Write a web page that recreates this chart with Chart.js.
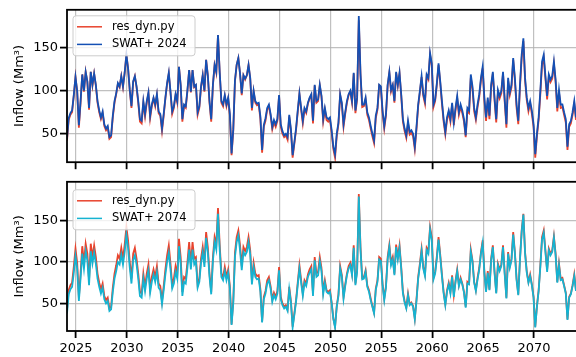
<!DOCTYPE html>
<html>
<head>
<meta charset="utf-8">
<script src="https://cdn.jsdelivr.net/npm/chart.js@4.4.1/dist/chart.umd.min.js"></script>
<style>
  html, body { margin:0; padding:0; background:#fff; overflow:hidden; width:576px; height:357px; }
  #wrap { position:relative; width:576px; height:357px; overflow:hidden; }
  canvas { position:absolute; left:0; }
  #top { top:0; }
  #bot { top:172px; }
</style>
</head>
<body>
<div id="wrap">
<canvas id="top" width="580" height="172"></canvas>
<canvas id="bot" width="580" height="185"></canvas>
</div>
<script>
// time axis: one value every 2 months, starting early 2024
var t0 = 2024.12;
var perYear = 6;

var xTicks = [2025, 2030, 2035, 2040, 2045, 2050, 2055, 2060, 2065, 2070];
var yTicks = [50, 100, 150];

// inflow (Mm3)
var resDyn = [
  42, 66, 72, 75, 94, 116, 99, 57, 86, 119,
  99, 122, 110, 78, 122, 106, 120, 106, 86, 75,
  67, 74, 59, 54, 57, 44, 46, 69, 86, 96,
  108, 104, 117, 104, 121, 142, 126, 100, 80, 110,
  117, 104, 86, 64, 62, 86, 70, 86, 97, 68,
  82, 91, 82, 95, 74, 71, 53, 71, 91, 108,
  120, 98, 73, 80, 95, 86, 128, 106, 64, 82,
  80, 100, 124, 98, 124, 104,
  106, 72, 80, 104, 118, 99, 136, 118, 86, 64,
  106, 130, 121, 165, 121, 86, 82, 94, 82, 91,
  71, 25, 53, 111, 130, 138, 120, 95, 118, 113,
  118, 130, 114, 77, 99, 86, 83, 84, 67, 28,
  58, 65, 78, 82, 71, 55, 63, 58, 65, 94,
  58, 50, 46, 48, 43, 70, 53, 22, 38, 54,
  75, 96, 78, 62, 78, 74, 85, 91, 95, 62,
  106, 86, 88, 106, 93, 64, 78,
  66, 64, 66, 51, 32, 22, 47, 61, 95, 84,
  58, 73, 86, 95, 99, 86, 120, 74, 90, 182,
  118, 81, 82, 90, 72, 66, 56, 47, 39, 68,
  78, 106, 104, 74, 56, 71, 106, 121, 99, 106,
  86, 121, 106, 120, 94, 64, 53, 45, 62, 49,
  51, 47, 32, 55, 82, 98, 116, 94, 85, 117,
  113, 142, 130, 81, 88, 107, 130, 109, 85, 64,
  49, 66, 75, 64, 84, 60,
  77, 91, 72, 81, 74, 64, 46, 76, 74, 115,
  102, 76, 66, 81, 93, 112, 126, 89, 65, 89,
  67, 104, 120, 89, 63, 98, 91, 97, 120, 87,
  57, 112, 95, 104, 136, 112, 80, 61, 104, 138,
  158, 112, 89, 76, 85, 73, 58, 22, 47, 66,
  96, 130, 138, 114, 90, 116, 110, 114, 131, 110,
  76, 98, 80, 81, 72, 63, 31, 58, 62, 72,
  85, 66
];

var swat2024 = [
  44, 68, 74, 77, 95, 116, 100, 60, 88, 119,
  100, 122, 111, 80, 122, 107, 120, 107, 88, 77,
  69, 76, 61, 56, 59, 46, 48, 71, 88, 97,
  109, 105, 117, 105, 121, 142, 126, 101, 82, 111,
  117, 105, 88, 67, 65, 88, 73, 88, 98, 71,
  84, 92, 84, 96, 76, 73, 56, 73, 92, 109,
  121, 99, 76, 82, 96, 88, 128, 107, 67, 84,
  82, 101, 124, 99, 124, 105,
  107, 75, 82, 105, 118, 100, 136, 118, 88, 67,
  107, 130, 122, 165, 122, 88, 84, 95, 84, 92,
  73, 27, 55, 112, 130, 138, 120, 97, 118, 114,
  118, 130, 115, 80, 100, 88, 85, 86, 70, 31,
  60, 68, 80, 84, 73, 58, 66, 61, 67, 95,
  61, 53, 48, 50, 46, 72, 55, 25, 40, 56,
  77, 97, 80, 65, 80, 76, 86, 92, 96, 65,
  107, 88, 90, 107, 94, 67, 80,
  69, 67, 69, 54, 35, 26, 50, 63, 96, 86,
  61, 75, 88, 96, 100, 88, 121, 77, 92, 187,
  120, 84, 84, 92, 75, 69, 59, 50, 42, 71,
  80, 107, 105, 77, 59, 73, 107, 122, 101, 107,
  88, 122, 107, 121, 96, 67, 56, 48, 65, 52,
  54, 50, 35, 58, 84, 100, 117, 96, 88, 119,
  115, 144, 132, 84, 90, 109, 132, 111, 88, 67,
  52, 69, 77, 67, 86, 63,
  80, 94, 75, 84, 77, 67, 48, 80, 77, 119,
  105, 80, 69, 84, 96, 115, 128, 92, 69, 92,
  71, 107, 122, 92, 67, 101, 94, 100, 122, 90,
  61, 115, 98, 107, 138, 115, 84, 65, 107, 142,
  161, 115, 92, 80, 88, 77, 61, 26, 50, 69,
  100, 134, 142, 117, 94, 119, 113, 117, 134, 113,
  80, 101, 84, 84, 75, 67, 35, 61, 65, 75,
  88, 69
];

var swat2074 = [
  38, 61, 67, 70, 87, 107, 92, 53, 80, 110,
  92, 113, 102, 72, 113, 98, 111, 98, 80, 70,
  62, 69, 55, 50, 53, 41, 43, 64, 80, 89,
  100, 97, 109, 97, 112, 133, 117, 93, 74, 102,
  108, 97, 80, 59, 57, 80, 65, 80, 90, 63,
  76, 85, 76, 88, 69, 66, 49, 66, 85, 100,
  111, 91, 68, 74, 88, 80, 119, 98, 59, 76,
  74, 93, 115, 91, 115, 97,
  101, 69, 76, 99, 112, 94, 129, 112, 82, 61,
  101, 124, 115, 158, 115, 82, 78, 89, 78, 87,
  68, 24, 50, 106, 124, 132, 114, 90, 112, 108,
  112, 124, 109, 73, 94, 82, 79, 80, 64, 27,
  55, 62, 74, 78, 68, 52, 60, 55, 62, 90,
  55, 48, 44, 46, 41, 67, 51, 21, 36, 52,
  72, 92, 75, 59, 75, 71, 82, 87, 91, 59,
  102, 82, 84, 101, 89, 61, 75,
  64, 62, 64, 50, 31, 21, 46, 59, 92, 82,
  56, 71, 84, 92, 96, 84, 117, 72, 88, 179,
  115, 79, 80, 88, 70, 64, 54, 46, 38, 66,
  76, 103, 101, 72, 54, 69, 103, 118, 96, 103,
  84, 118, 103, 117, 92, 62, 51, 44, 60, 48,
  50, 46, 31, 53, 80, 95, 113, 92, 83, 114,
  110, 139, 127, 79, 86, 104, 127, 106, 83, 62,
  48, 64, 73, 62, 82, 58,
  76, 89, 71, 79, 73, 63, 45, 74, 73, 112,
  100, 75, 65, 79, 91, 110, 123, 87, 64, 87,
  66, 102, 118, 87, 62, 96, 89, 95, 118, 85,
  56, 110, 93, 102, 133, 110, 78, 60, 102, 136,
  157, 110, 87, 75, 83, 72, 57, 21, 46, 65,
  94, 127, 135, 112, 88, 114, 108, 112, 129, 108,
  75, 96, 78, 79, 71, 62, 30, 57, 61, 71,
  83, 65
];

var RED = '#e8432d';
var BLUE = '#1450b4';
var CYAN = '#15b3d1';

var pts = (arr) => arr.map((v, i) => ({x: t0 + i / perYear, y: v}));

Chart.defaults.font.family = "'DejaVu Sans', sans-serif";
Chart.defaults.font.size = 13;
Chart.defaults.color = '#000';

// black box round the plot area
var frame = {
  id: 'frame',
  afterDatasetsDraw(chart) {
    let ctx = chart.ctx, a = chart.chartArea;
    ctx.save();
    ctx.strokeStyle = '#000';
    ctx.lineWidth = 1.8;
    ctx.strokeRect(a.left, a.top, a.right - a.left, a.bottom - a.top);
    ctx.restore();
  }
};

// matplotlib style legend in the top left corner
var legendBox = {
  id: 'legendBox',
  afterDraw(chart, args, o) {
    let ctx = chart.ctx, a = chart.chartArea;
    let x = a.left + o.dx, y = a.top + o.dy, w = 122, h = 40, r = 3;
    ctx.save();
    ctx.beginPath();
    ctx.moveTo(x + r, y);
    ctx.arcTo(x + w, y, x + w, y + h, r);
    ctx.arcTo(x + w, y + h, x, y + h, r);
    ctx.arcTo(x, y + h, x, y, r);
    ctx.arcTo(x, y, x + w, y, r);
    ctx.closePath();
    ctx.fillStyle = 'rgba(255,255,255,0.8)';
    ctx.fill();
    ctx.strokeStyle = '#cccccc';
    ctx.lineWidth = 1;
    ctx.stroke();
    ctx.font = "11.5px 'DejaVu Sans'";
    ctx.textBaseline = 'middle';
    o.items.forEach((it, k) => {
      let yy = y + 11 + k * 17.6;
      ctx.strokeStyle = it.color;
      ctx.lineWidth = 1.5;
      ctx.beginPath();
      ctx.moveTo(x + 4, yy);
      ctx.lineTo(x + 29, yy);
      ctx.stroke();
      ctx.fillStyle = '#000';
      ctx.fillText(it.label, x + 39, yy);
    });
    ctx.restore();
  }
};

var makeChart = (id, other, otherColor, otherLabel, opt) => {
  return new Chart(document.getElementById(id), {
    type: 'line',
    data: {
      datasets: [
        {label: otherLabel, data: pts(other), borderColor: otherColor, borderWidth: 1.8, pointRadius: 0, tension: 0},
        {label: 'res_dyn.py', data: pts(resDyn), borderColor: RED, borderWidth: 1.8, pointRadius: 0, tension: 0}
      ]
    },
    options: {
      responsive: false,
      animation: false,
      devicePixelRatio: 1,
      layout: {padding: {top: opt.padTop, right: 2, left: 0, bottom: 0}},
      plugins: {
        legend: {display: false},
        tooltip: {enabled: false},
        legendBox: {dx: opt.legDx, dy: opt.legDy, items: [
          {label: 'res_dyn.py', color: RED},
          {label: otherLabel, color: otherColor}
        ]}
      },
      scales: {
        x: {
          type: 'linear',
          min: 2024.12,
          max: 2074.32,
          afterBuildTicks: (s) => { s.ticks = xTicks.map(v => ({value: v})); },
          afterFit: (s) => { s.height = opt.xH; },
          ticks: {display: opt.xLabels, padding: 3, maxRotation: 0, callback: v => String(v)},
          grid: {color: 'rgba(176,176,176,0.8)', lineWidth: 1.2, tickColor: '#000', tickWidth: 1.8, tickLength: 7},
          border: {display: false}
        },
        y: {
          min: opt.yMin,
          max: opt.yMax,
          afterBuildTicks: (s) => { s.ticks = yTicks.map(v => ({value: v})); },
          afterFit: (s) => { s.width = 67; },
          ticks: {padding: 2},
          title: {display: true, text: 'Inflow (Mm³)', font: {size: 13}, color: '#000', padding: {top: 12, bottom: 0}},
          grid: {color: 'rgba(176,176,176,0.8)', lineWidth: 1.2, tickColor: '#000', tickWidth: 1.8, tickLength: 7},
          border: {display: false}
        }
      }
    },
    plugins: [frame, legendBox]
  });
};

makeChart('top', swat2024, BLUE, 'SWAT+ 2024', {padTop: 9, xH: 8, xLabels: false, yMin: 16.8, yMax: 194.3, legDx: 6, legDy: 6});
makeChart('bot', swat2074, CYAN, 'SWAT+ 2074', {padTop: 2, xH: 26, xLabels: true, yMin: 16.8, yMax: 196.6, legDx: 6, legDy: 8});
</script>
</body>
</html>
